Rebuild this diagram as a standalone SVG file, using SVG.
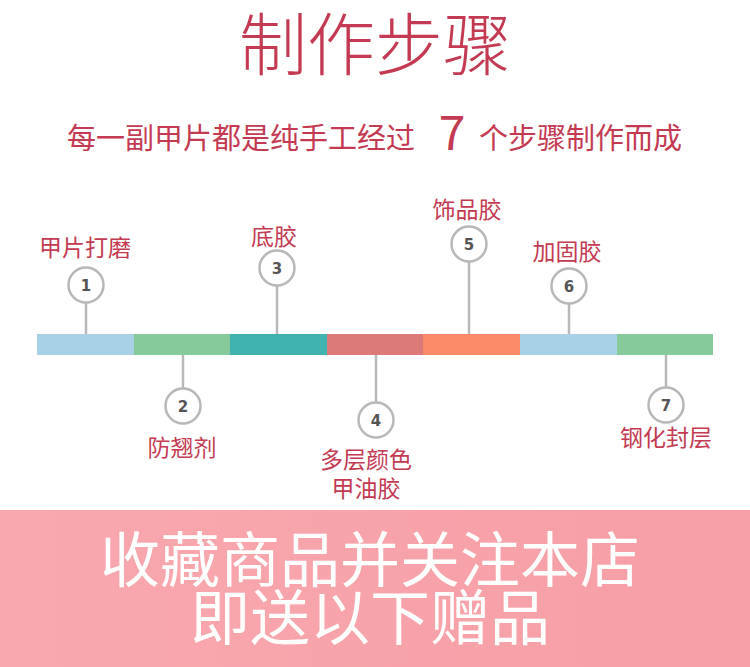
<svg xmlns="http://www.w3.org/2000/svg" width="750" height="667" viewBox="0 0 750 667">
<style>
.t{font-family:"Noto Sans CJK SC","Noto Sans",sans-serif;fill:#c33a52}
.lbl{font-size:23px;text-anchor:middle}
.c{fill:#fff;stroke:#b8b8b8;stroke-width:2.5}
.ln{stroke:#b8b8b8;stroke-width:2.5}
.n{font-family:"DejaVu Sans",sans-serif;font-weight:bold;font-size:15px;fill:#555;text-anchor:middle}
.w{font-family:"Noto Sans CJK SC",sans-serif;fill:#fff;text-anchor:middle}
</style>
<defs>
<linearGradient id="bg" x1="0" y1="0" x2="1" y2="0">
<stop offset="0" stop-color="#f9a8af"/>
<stop offset="1" stop-color="#f69ea6"/>
</linearGradient>
</defs>
<rect width="750" height="667" fill="#fff"/>
<text class="t" x="375" y="70" font-size="68" font-weight="300" text-anchor="middle">制作步骤</text>
<text class="t" x="67" y="149" font-size="29">每一副甲片都是纯手工经过</text>
<text class="t" x="452" y="150" font-size="48" text-anchor="middle" font-family="Liberation Sans">7</text>
<text class="t" x="479" y="149" font-size="29">个步骤制作而成</text>
<g id="bar">
<rect x="37" y="334" width="97" height="21" fill="#a8d0e6"/>
<rect x="134" y="334" width="96" height="21" fill="#86c99a"/>
<rect x="230" y="334" width="97" height="21" fill="#40b3b0"/>
<rect x="327" y="334" width="96" height="21" fill="#dc7a7a"/>
<rect x="423" y="334" width="97" height="21" fill="#fa8a68"/>
<rect x="520" y="334" width="97" height="21" fill="#a8d0e6"/>
<rect x="617" y="334" width="96" height="21" fill="#86c99a"/>
</g>
<g id="connectors">
<line class="ln" x1="86" y1="303" x2="86" y2="334"/>
<line class="ln" x1="183" y1="355" x2="183" y2="388"/>
<line class="ln" x1="277" y1="286" x2="277" y2="334"/>
<line class="ln" x1="376" y1="355" x2="376" y2="402"/>
<line class="ln" x1="469" y1="262" x2="469" y2="334"/>
<line class="ln" x1="569" y1="304" x2="569" y2="334"/>
<line class="ln" x1="666" y1="355" x2="666" y2="387"/>
</g>
<g id="step1">
<circle class="c" cx="86" cy="285" r="17.5"/>
<text class="n" x="86" y="291">1</text>
<text class="t lbl" x="85" y="256">甲片打磨</text>
</g>
<g id="step2">
<circle class="c" cx="183" cy="406" r="17.5"/>
<text class="n" x="183" y="412">2</text>
<text class="t lbl" x="182" y="456">防翘剂</text>
</g>
<g id="step3">
<circle class="c" cx="277" cy="268" r="17.5"/>
<text class="n" x="277" y="274">3</text>
<text class="t lbl" x="274" y="245">底胶</text>
</g>
<g id="step4">
<circle class="c" cx="376" cy="420" r="17.5"/>
<text class="n" x="376" y="426">4</text>
<text class="t lbl" x="366" y="468">多层颜色</text>
<text class="t lbl" x="366" y="497">甲油胶</text>
</g>
<g id="step5">
<circle class="c" cx="469" cy="244" r="17.5"/>
<text class="n" x="469" y="250">5</text>
<text class="t lbl" x="467" y="218">饰品胶</text>
</g>
<g id="step6">
<circle class="c" cx="569" cy="286" r="17.5"/>
<text class="n" x="569" y="292">6</text>
<text class="t lbl" x="567" y="260">加固胶</text>
</g>
<g id="step7">
<circle class="c" cx="666" cy="405" r="17.5"/>
<text class="n" x="666" y="411">7</text>
<text class="t lbl" x="666" y="446">钢化封层</text>
</g>
<g id="banner">
<rect x="0" y="510" width="750" height="157" fill="url(#bg)"/>
<text class="w" x="370" y="582" font-size="60">收藏商品并关注本店</text>
<text class="w" x="370" y="640" font-size="60">即送以下赠品</text>
</g>
</svg>
